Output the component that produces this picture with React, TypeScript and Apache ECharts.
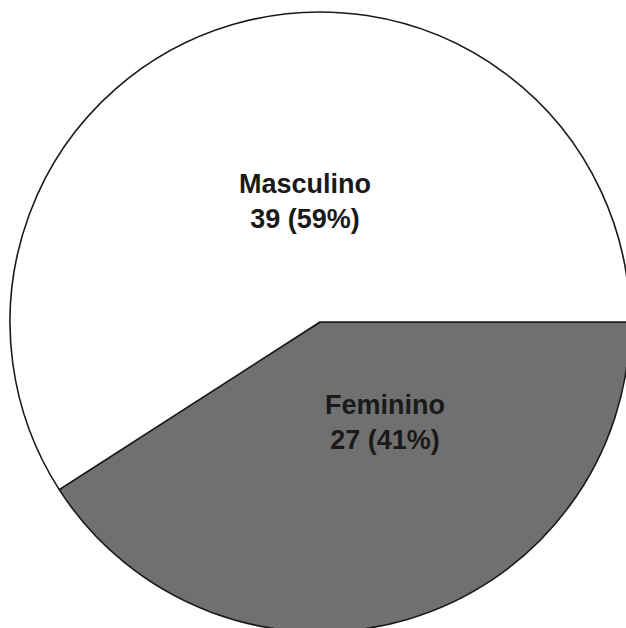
import React, { useEffect, useRef } from "react";
import * as echarts from "echarts";

// Distribuição por sexo
const categories = ["Feminino", "Masculino"];
const counts = [27, 39];
const percents = [41, 59];

const sliceColors = ["#707070", "#ffffff"];

// label centres inside the chart box, one per slice
const labelSpots: Record<number, [number, number]> = {
  0: [385, 422],
  1: [305, 201],
};

export default function App() {
  const ref = useRef<HTMLDivElement>(null);

  useEffect(() => {
    if (!ref.current) return;
    const chart = echarts.init(ref.current, undefined, { renderer: "svg" });
    chart.setOption({
      animation: false,
      backgroundColor: "#ffffff",
      series: [
        {
          type: "pie",
          center: [320, 322],
          radius: [0, 310],
          startAngle: 0,
          clockwise: true,
          silent: true,
          itemStyle: {
            borderColor: "#1a1a1a",
            borderWidth: 1.6,
          },
          label: {
            show: true,
            position: "inside",
            fontFamily: "Liberation Sans, Arial, sans-serif",
            fontSize: 27,
            fontWeight: "bold",
            color: "#1a1a1a",
            lineHeight: 35,
            align: "center",
            verticalAlign: "middle",
            formatter: (p: any) =>
              `${p.name}\n${counts[p.dataIndex]} (${percents[p.dataIndex]}%)`,
          },
          labelLayout: (p: any) => {
            const s = labelSpots[p.dataIndex];
            return { x: s[0], y: s[1], align: "center", verticalAlign: "middle" };
          },
          data: categories.map((name, i) => ({
            name,
            value: counts[i],
            itemStyle: { color: sliceColors[i] },
          })),
        },
      ],
    });
    return () => chart.dispose();
  }, []);

  return (
    <div
      ref={ref}
      style={{ position: "fixed", left: 0, top: 0, width: 626, height: 628 }}
    />
  );
}
